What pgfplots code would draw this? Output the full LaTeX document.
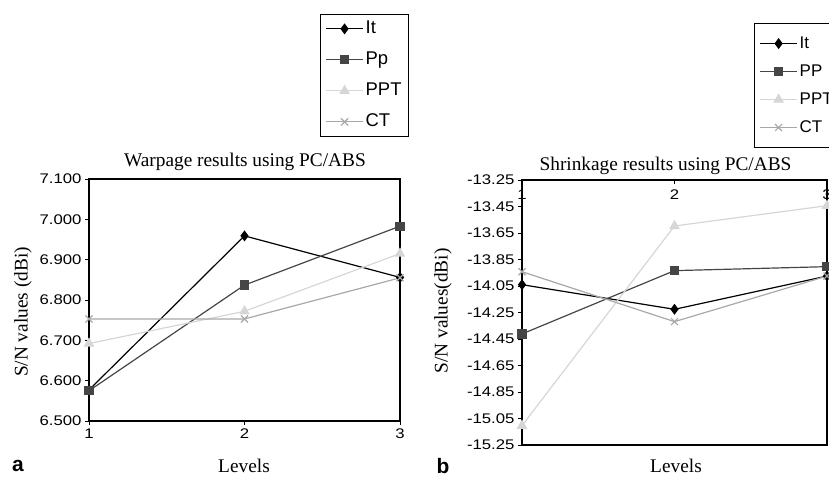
\documentclass[border=0pt]{standalone}
\usepackage{fontspec}
\setmainfont{Liberation Serif}
\setsansfont{Liberation Sans}
\usepackage{graphicx}
\usepackage{pgfplots}
\pgfplotsset{compat=1.18}
\definecolor{cIt}{gray}{0}
\definecolor{cPp}{gray}{0.27}
\definecolor{cPPT}{gray}{0.84}
\definecolor{cCT}{gray}{0.66}
\newcommand\sx[1]{\scalebox{1.2}[1]{#1}}
\newcommand\tickfont{\fontsize{14}{14}\sffamily}
\newcommand\serf{\fontsize{19.4}{22}\rmfamily}

\pgfplotsset{
  common/.style={
    scale only axis, clip=false,
    xmin=1, xmax=3, xtick={1,2,3},
    xticklabels={\sx{1},\sx{2},\sx{3}},
    tick label style={font=\tickfont},
    tick align=outside, major tick length=4bp,
    tick style={black, line width=0.7bp},
    axis line style={line width=1.1bp},
    legend cell align=left,
    legend image code/.code={\draw[mark repeat=2,mark phase=2,##1] plot coordinates {(0bp,0bp)(18.5bp,0bp)(37bp,0bp)};},
  },
  sIt/.style={color=cIt, line width=1.2bp, mark=diamond*, mark size=4.5bp, mark options={fill=cIt}},
  sPp/.style={color=cPp, line width=1.2bp, mark=square*, mark size=4bp, mark options={fill=cPp}},
  sPPT/.style={color=cPPT, line width=1.2bp, mark=triangle*, mark size=5bp, mark options={fill=cPPT}},
  sCT/.style={color=cCT, line width=1.2bp, mark=x, mark size=5bp},
}

\begin{document}
\begin{tikzpicture}
\clip (0bp,0bp) rectangle (829bp,477bp);
\useasboundingbox (0bp,0bp) rectangle (829bp,477bp);

% ---------- panel a ----------
\begin{axis}[common,
  at={(89bp,56bp)}, anchor=south west, width=311bp, height=242bp,
  ymin=6.5, ymax=7.1,
  ytick={6.5,6.6,6.7,6.8,6.9,7.0,7.1},
  yticklabels={\sx{6.500},\sx{6.600},\sx{6.700},\sx{6.800},\sx{6.900},\sx{7.000},\sx{7.100}},
  xtick pos=lower, ytick pos=left,
  legend style={at={(0.743,1.682)}, anchor=north west, draw=black, line width=0.8bp,
    font=\fontsize{18.5}{20}\sffamily, row sep=14bp, inner xsep=5bp, inner ysep=6bp,
    nodes={inner xsep=2bp, inner ysep=0bp, text height=13bp, text depth=4bp}},
]
\addplot[sIt] coordinates {(1,6.577) (2,6.959) (3,6.856)};
\addlegendentry{It}
\addplot[sPp] coordinates {(1,6.575) (2,6.837) (3,6.983)};
\addlegendentry{Pp}
\addplot[sPPT] coordinates {(1,6.692) (2,6.772) (3,6.915)};
\addlegendentry{PPT}
\addplot[sCT] coordinates {(1,6.753) (2,6.753) (3,6.855)};
\addlegendentry{CT}
\end{axis}

% ---------- panel b ----------
\begin{axis}[common,
  at={(522bp,32bp)}, anchor=south west, width=305bp, height=265bp,
  ymin=-15.25, ymax=-13.25,
  ytick={-15.25,-15.05,-14.85,-14.65,-14.45,-14.25,-14.05,-13.85,-13.65,-13.45,-13.25},
  yticklabels={\sx{-15.25},\sx{-15.05},\sx{-14.85},\sx{-14.65},\sx{-14.45},\sx{-14.25},\sx{-14.05},\sx{-13.85},\sx{-13.65},\sx{-13.45},\sx{-13.25}},
  xtick pos=upper, xticklabel pos=upper, ytick pos=left,
  major x tick style={yshift=-4bp},
  xticklabel style={anchor=north, yshift=-10bp},
  legend style={at={(0.761,1.592)}, anchor=north west, draw=black, line width=0.8bp,
    font=\fontsize{17}{19}\sffamily, row sep=12bp, inner xsep=5bp, inner ysep=12bp,
    nodes={inner xsep=2bp, inner ysep=0bp, text height=12.5bp, text depth=3.5bp}},
]
\addplot[sIt] coordinates {(1,-14.04) (2,-14.226) (3,-13.975)};
\addlegendentry{It}
\addplot[sPp] coordinates {(1,-14.412) (2,-13.934) (3,-13.904)};
\addlegendentry{PP}
\addplot[sPPT] coordinates {(1,-15.104) (2,-13.597) (3,-13.444)};
\addlegendentry{PPT}
\addplot[sCT] coordinates {(1,-13.942) (2,-14.319) (3,-13.975)};
\addlegendentry{CT}
\end{axis}

% ---------- text ----------
\node[font=\serf] at (245bp,315bp) {Warpage results using PC/ABS};
\node[font=\serf] at (665.5bp,311.3bp) {Shrinkage results using PC/ABS};
\node[font=\serf, rotate=90] at (23bp,165bp) {S/N values (dBi)};
\node[font=\serf, rotate=90] at (443bp,166bp) {S/N values(dBi)};
\node[font=\serf] at (244bp,11bp) {Levels};
\node[font=\serf] at (676bp,11bp) {Levels};
\node[font=\fontsize{21}{21}\sffamily\bfseries] at (18bp,11bp) {a};
\node[font=\fontsize{21}{21}\sffamily\bfseries] at (443bp,11bp) {b};
\end{tikzpicture}
\end{document}
